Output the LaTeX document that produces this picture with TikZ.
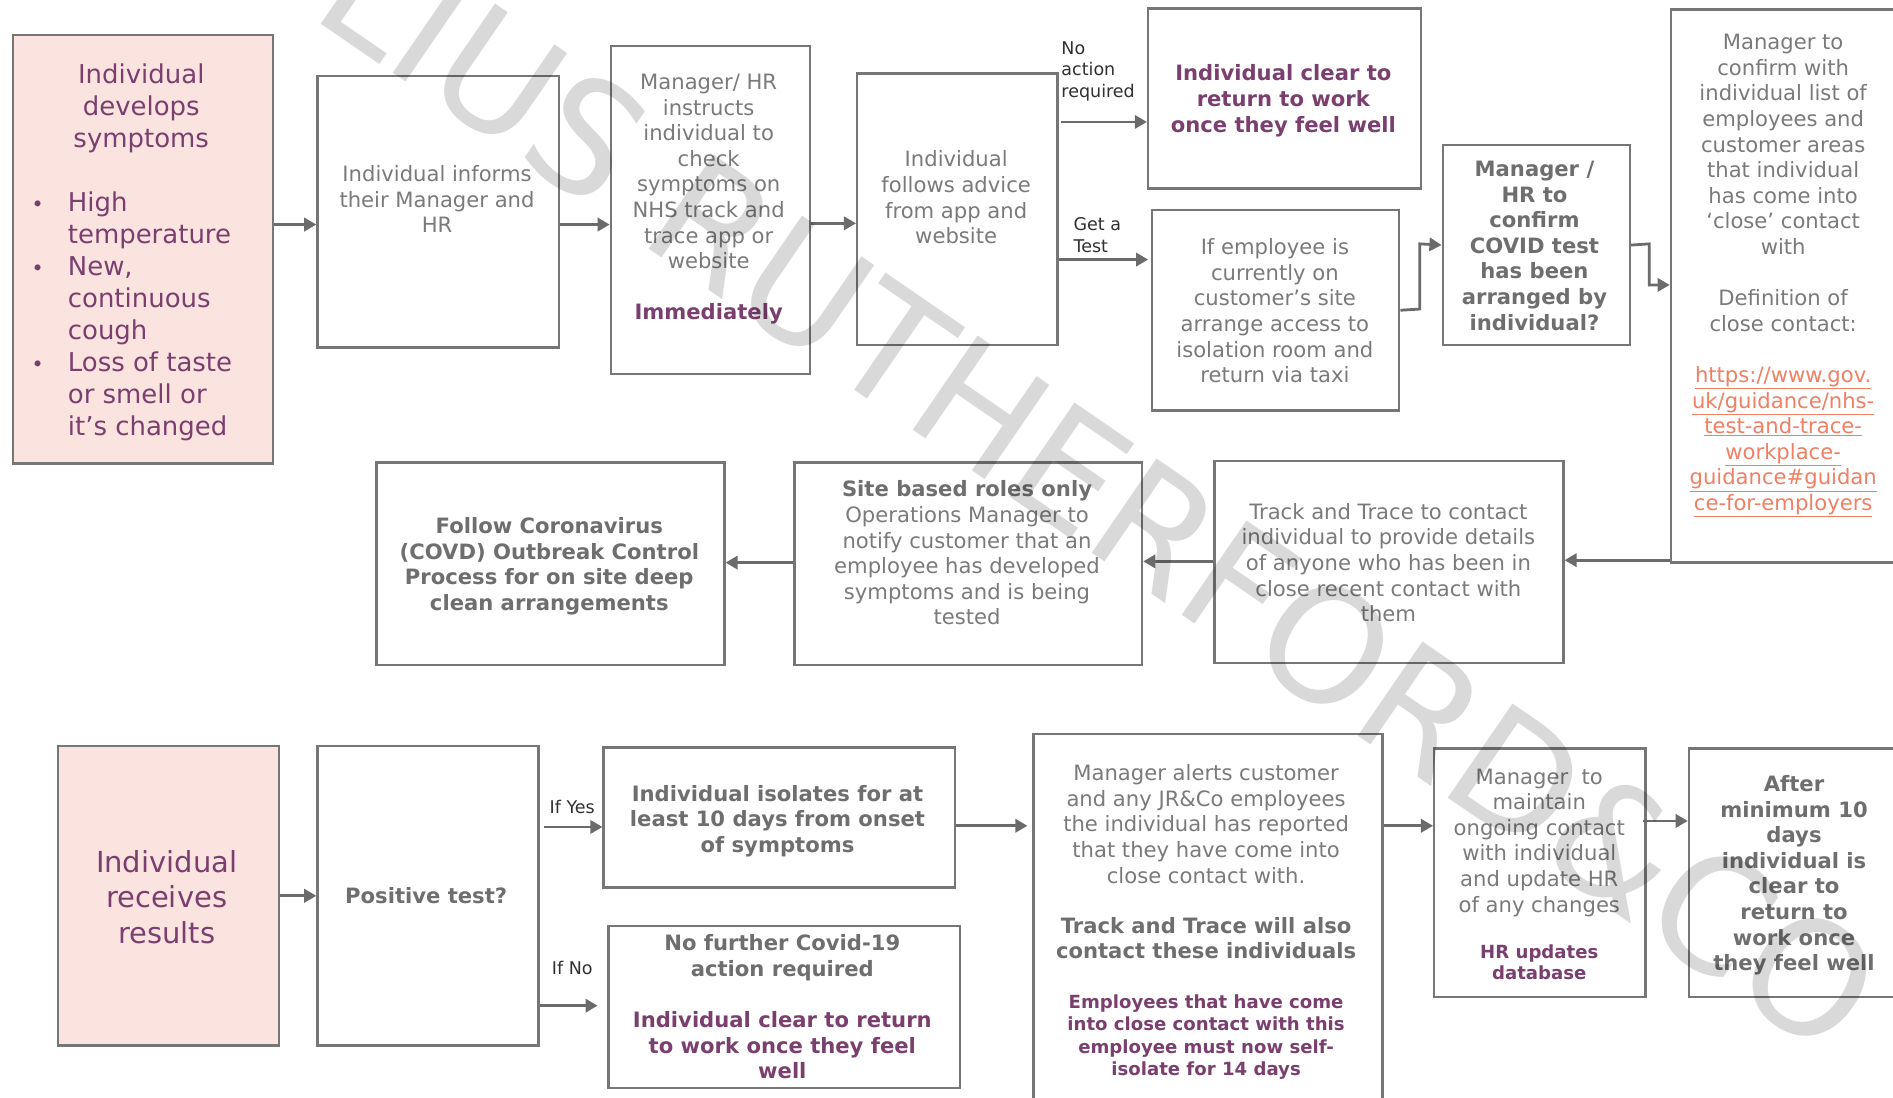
\documentclass[tikz,border=0pt]{standalone}
\usepackage{fontspec}
\setmainfont{DejaVu Sans}
\usetikzlibrary{arrows.meta,calc}
\definecolor{bordergray}{HTML}{767676}
\definecolor{txtgray}{HTML}{7A7A7A}
\definecolor{boldgray}{HTML}{6E6E6E}
\definecolor{plum}{HTML}{7B3F6F}
\definecolor{pinkfill}{HTML}{FBE4DF}
\definecolor{linkcol}{HTML}{F07F63}
\definecolor{arrowgray}{HTML}{6B6B6B}
\definecolor{labelcol}{HTML}{303030}
\newcommand\fsz[2]{\fontsize{#1}{#2}\selectfont}
\newcommand\lnk[1]{\textcolor{linkcol}{\underline{#1}}}
\newcommand\bul{{\fsz{17}{26.5}•}}
\begin{document}
\begin{tikzpicture}[x=1pt,y=-1pt,
  box/.style={draw=bordergray, line width=2pt, anchor=north west, inner sep=0pt},
  pinkbox/.style={box, fill=pinkfill},
  txt/.style={align=center, inner sep=0pt, text=txtgray, font=\fsz{17.5}{21.2}},
  btxt/.style={txt, text=boldgray, font=\fsz{17.5}{21.2}\bfseries},
  ptxt/.style={txt, text=plum, font=\fsz{17.5}{21.2}\bfseries},
  lbl/.style={align=left, inner sep=0pt, text=labelcol, font=\fsz{14.5}{18}},
  arr/.style={draw=arrowgray, line width=2.3pt, -{Triangle[length=10pt,width=11pt]}},
]
\useasboundingbox (0,0) rectangle (1568,909);
\fill[white] (0,0) rectangle (1568,909);
\clip (0,0) rectangle (1568,909);

% ---------- boxes ----------
\node[pinkbox, minimum width=215pt, minimum height=355pt] (A) at (10,28) {};
\node[box, minimum width=200pt, minimum height=225pt] (B) at (262,62) {};
\node[box, minimum width=165pt, minimum height=272pt] (C) at (505,37) {};
\node[box, minimum width=166pt, minimum height=225pt] (D) at (709,60) {};
\node[box, minimum width=226pt, minimum height=149pt] (E) at (950,6) {};
\node[box, minimum width=205pt, minimum height=166pt] (F) at (953,173) {};
\node[box, minimum width=155pt, minimum height=166pt] (G) at (1194,119) {};
\node[box, minimum width=250pt, minimum height=458pt] (H) at (1383,7) {};
\node[box, minimum width=289pt, minimum height=167pt] (I) at (1005,381) {};
\node[box, minimum width=288pt, minimum height=168pt] (J) at (657,382) {};
\node[box, minimum width=288pt, minimum height=168pt] (K) at (311,382) {};
\node[pinkbox, minimum width=183pt, minimum height=248pt] (L) at (47,617) {};
\node[box, minimum width=183pt, minimum height=248pt] (M) at (262,617) {};
\node[box, minimum width=291pt, minimum height=116pt] (N) at (499,618) {};
\node[box, minimum width=291pt, minimum height=134pt] (O) at (503,766) {};
\node[box, minimum width=289pt, minimum height=360pt] (P) at (855,607) {};
\node[box, minimum width=175pt, minimum height=206pt] (Q) at (1187,619) {};
\node[box, minimum width=250pt, minimum height=206pt] (R) at (1398,619) {};

% ---------- texts ----------
\node[txt, text=plum, font=\fsz{21.5}{26.5}] (tA) at (117,89.5) {Individual\\develops\\symptoms};
\node[inner sep=0pt, anchor=west, text=plum, font=\fsz{21.5}{26.5}] (tA2) at (26,263)
  {\begin{tabular}{@{}l@{\hspace{20pt}}l@{}}\bul&High\\ &temperature\\\bul&New,\\ &continuous\\ &cough\\\bul&Loss of taste\\ &or smell or\\ &it’s changed\end{tabular}};
\node[txt] (tB) at (362,165) {Individual informs\\their Manager and\\HR};
\node[txt] (tC) at (587,165) {Manager/ HR\\instructs\\individual to\\check\\symptoms on\\NHS track and\\trace app or\\website\\[21.2pt]\textcolor{plum}{\bfseries Immediately}};
\node[txt] (tD) at (792,163.5) {Individual\\follows advice\\from app and\\website};
\node[ptxt] (tE) at (1063,83.5) {Individual clear to\\return to work\\once they feel well};
\node[txt] (tF) at (1056,257.5) {If employee is\\currently on\\customer’s site\\arrange access to\\isolation room and\\return via taxi};
\node[btxt] (tG) at (1271,203.5) {Manager /\\HR to\\confirm\\COVID test\\has been\\arranged by\\individual?};
\node[txt] (tH) at (1477,228.5) {Manager to\\confirm with\\individual list of\\employees and\\customer areas\\that individual\\has come into\\‘close’ contact\\with\\[21.2pt]Definition of\\close contact:\\[21.2pt]\lnk{https://www.gov.}\\\lnk{uk/guidance/nhs-}\\\lnk{test-and-trace-}\\\lnk{workplace-}\\\lnk{guidance\#guidan}\\\lnk{ce-for-employers}};
\node[txt] (tI) at (1150,466) {Track and Trace to contact\\individual to provide details\\of anyone who has been in\\close recent contact with\\them};
\node[txt] (tJ) at (801,458) {\textcolor{boldgray}{\bfseries Site based roles only}\\Operations Manager to\\notify customer that an\\employee has developed\\symptoms and is being\\tested};
\node[btxt] (tK) at (455,469) {Follow Coronavirus\\(COVD) Outbreak Control\\Process for on site deep\\clean arrangements};
\node[txt, text=plum, font=\fsz{24}{29.5}] (tL) at (138,743) {Individual\\receives\\results};
\node[btxt] (tM) at (353,742) {Positive test?};
\node[btxt] (tN) at (644,680) {Individual isolates for at\\least 10 days from onset\\of symptoms};
\node[btxt] (tO) at (648,834) {No further Covid-19\\action required\\[21.2pt]\textcolor{plum}{Individual clear to return}\\\textcolor{plum}{to work once they feel}\\\textcolor{plum}{well}};
\node[txt] (tP1) at (999,682.5) {Manager alerts customer\\and any JR\&Co employees\\the individual has reported\\that they have come into\\close contact with.};
\node[btxt] (tP2) at (999,777) {Track and Trace will also\\contact these individuals};
\node[ptxt, font=\fsz{15}{18.5}\bfseries] (tP3) at (999,859) {Employees that have come\\into close contact with this\\employee must now self-\\isolate for 14 days};
\node[txt] (tQ1) at (1275,698) {Manager\ \ to\\maintain\\ongoing contact\\with individual\\and update HR\\of any changes};
\node[ptxt, font=\fsz{15}{18}\bfseries] (tQ2) at (1275,797) {HR updates\\database};
\node[btxt] (tR) at (1486,725) {After\\minimum 10\\days\\individual is\\clear to\\return to\\work once\\they feel well};

% ---------- labels ----------
\node[lbl, anchor=west] (lNoAct) at (879,59) {No\\action\\required};
\node[lbl, anchor=west] (lTest) at (889,195) {Get a\\Test};
\node[lbl] (lYes) at (474,668.5) {If Yes};
\node[lbl] (lIfNo) at (474,801.5) {If No};

% ---------- connectors ----------
\draw[arr] (A.east |- 0,186) -- (B.west |- 0,186);
\draw[arr] (B.east |- 0,186) -- (C.west |- 0,186);
\draw[arr] (C.east |- 0,185) -- (D.west |- 0,185);
\draw[arr] ($(D.east |- 0,101)+(2,0)$) -- (E.west |- 0,101);
\draw[arr] (D.east |- 0,215) -- ($(F.west |- 0,215)+(-2,0)$);
\draw[arr] (F.east) -- (1176,256) -- (1176,202) -- (G.west);
\draw[arr] (G.east) -- (1366,202) -- (1366,236) -- (H.west |- 0,236);
\draw[arr] (H.west |- 0,464) -- (I.east |- 0,464);
\draw[arr] (I.west |- 0,465) -- (J.east |- 0,465);
\draw[arr] (J.west |- 0,466) -- (K.east |- 0,466);
\draw[arr] (L.east) -- (M.west);
\draw[arr] ($(M.east |- 0,685)+(4,0)$) -- (N.west |- 0,685);
\draw[arr] (M.east |- 0,833) -- ($(O.west |- 0,833)+(-8,0)$);
\draw[arr] (N.east |- 0,684) -- ($(P.west |- 0,684)+(-4,0)$);
\draw[arr] (P.east |- 0,684) -- (Q.west |- 0,684);
\draw[arr] ($(Q.east |- 0,680)+(-3,0)$) -- (R.west |- 0,680);

% ---------- watermark ----------
\node[rotate=-34.5, inner sep=0pt, text=black, text opacity=0.15, font=\fsz{130}{130}, text height=0.73em, text depth=0pt] (wm) at (832,404) {JULIUS RUTHERFORD\&CO};
\end{tikzpicture}
\end{document}
